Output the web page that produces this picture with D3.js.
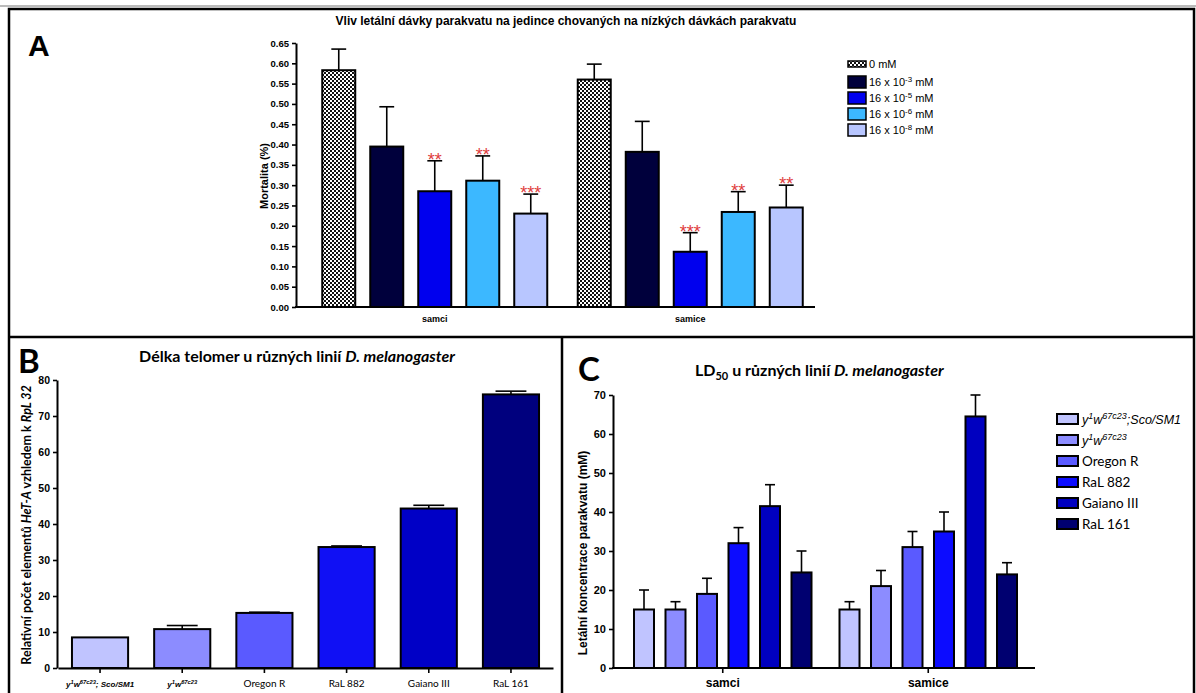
<!DOCTYPE html>
<html>
<head>
<meta charset="utf-8">
<script src="https://cdn.jsdelivr.net/npm/d3@7"></script>
<style>
body { margin: 0; background: #fff; }
svg { display: block; }
</style>
</head>
<body>
<svg id="chart" width="1196" height="693"></svg>
<script>
// ---- Panel A: mortality after lethal paraquat dose ----
const groupsA = ["samci", "samice"];
const dosesA = ["0 mM", "16 x 10^{-3} mM", "16 x 10^{-5} mM", "16 x 10^{-6} mM", "16 x 10^{-8} mM"];
const mortalitySamci = [0.583, 0.395, 0.285, 0.311, 0.230];
const mortalitySamice = [0.560, 0.382, 0.136, 0.234, 0.245];
const errSamci = [0.052, 0.098, 0.075, 0.061, 0.048];
const errSamice = [0.038, 0.075, 0.047, 0.050, 0.055];
const starsSamci = ["", "", "**", "**", "***"];
const starsSamice = ["", "", "***", "**", "**"];
const ticksA = [0, 0.05, 0.1, 0.15, 0.2, 0.25, 0.3, 0.35, 0.4, 0.45, 0.5, 0.55, 0.6, 0.65];

// ---- Panel B: telomere length ----
const strains = ["y^{1}w^{67c23}; Sco/SM1", "y^{1}w^{67c23}", "Oregon R", "RaL 882", "Gaiano III", "RaL 161"];
const telomere = [8.5, 10.8, 15.3, 33.6, 44.3, 76.0];
const telomereErr = [0, 1.0, 0.2, 0.3, 0.9, 0.9];
const ticksB = [0, 10, 20, 30, 40, 50, 60, 70, 80];

// ---- Panel C: LD50 ----
const groupsC = ["samci", "samice"];
const legendC = ["y^{1}w^{67c23};Sco/SM1", "y^{1}w^{67c23}", "Oregon R", "RaL 882", "Gaiano III", "RaL 161"];
const ld50Samci = [15, 15, 19, 32, 41.5, 24.5];
const ld50Samice = [15, 21, 31, 35, 64.5, 24];
const ld50ErrSamci = [5, 2, 4, 4, 5.5, 5.5];
const ld50ErrSamice = [2, 4, 4, 5, 5.5, 3];
const ticksC = [0, 10, 20, 30, 40, 50, 60, 70];

const colorsA = ["url(#checker)", "#00003c", "#0000ee", "#3cb8ff", "#b8c6ff"];
const colorsB = ["#c0c4ff", "#8c8cff", "#5a5aff", "#1010f4", "#0000c6", "#00007e"];
const colorsC = ["#c0c4ff", "#8c8cff", "#5a5aff", "#0c0cff", "#0000c0", "#000070"];

const ARIAL = "'Liberation Sans', Arial, sans-serif";
const CALIBRI = "Lato, 'Open Sans', sans-serif";

const svg = d3.select("#chart");

// checkered fill for the control bars
const pat = svg.append("defs").append("pattern")
    .attr("id", "checker")
    .attr("width", 4).attr("height", 4)
    .attr("patternUnits", "userSpaceOnUse");
pat.append("rect").attr("width", 4).attr("height", 4).attr("fill", "#fff");
pat.append("rect").attr("width", 2).attr("height", 2).attr("fill", "#111");
pat.append("rect").attr("x", 2).attr("y", 2).attr("width", 2).attr("height", 2).attr("fill", "#111");

// text with ^{...} superscripts
function rich(sel, str, size) {
    const parts = str.split(/(\^\{[^}]*\})/).filter(p => p);
    let up = false;
    parts.forEach(p => {
        const m = p.match(/^\^\{(.*)\}$/);
        const t = sel.append("tspan").text(m ? m[1] : p);
        if (m) {
            t.attr("font-size", size * 0.72);
            if (!up) t.attr("dy", -size * 0.4);
            up = true;
        } else {
            if (up) t.attr("dy", size * 0.4);
            up = false;
        }
    });
}

function styleAxis(g, fontSize, family) {
    g.select(".domain").attr("stroke-width", 2);
    g.selectAll(".tick line").attr("stroke-width", 1.6);
    g.selectAll(".tick text")
        .attr("font-family", family)
        .attr("font-size", fontSize)
        .attr("font-weight", "bold")
        .attr("fill", "#000");
}

function drawBars(g, rows, y, capFrac) {
    g.selectAll("rect.bar").data(rows).join("rect")
        .attr("class", "bar")
        .attr("x", d => d.x)
        .attr("y", d => y(d.v))
        .attr("width", d => d.w)
        .attr("height", d => y(0) - y(d.v))
        .attr("fill", d => d.fill)
        .attr("stroke", "#000")
        .attr("stroke-width", 2);
    const eb = g.selectAll("g.err").data(rows.filter(d => d.e > 0)).join("g").attr("class", "err")
        .attr("stroke", "#000").attr("stroke-width", 1.6);
    eb.append("line")
        .attr("x1", d => d.x + d.w / 2).attr("x2", d => d.x + d.w / 2)
        .attr("y1", d => y(d.v)).attr("y2", d => y(d.v + d.e));
    eb.append("line")
        .attr("x1", d => d.x + d.w / 2 - d.w * capFrac / 2)
        .attr("x2", d => d.x + d.w / 2 + d.w * capFrac / 2)
        .attr("y1", d => y(d.v + d.e)).attr("y2", d => y(d.v + d.e));
}

// ---- frame ----
svg.append("line").attr("x1", 0).attr("x2", 1196).attr("y1", 6).attr("y2", 6)
    .attr("stroke", "#bbb").attr("stroke-width", 2);
svg.append("rect").attr("x", 9).attr("y", 9).attr("width", 1185).attr("height", 700)
    .attr("fill", "none").attr("stroke", "#000").attr("stroke-width", 2.5);
svg.append("line").attr("x1", 9).attr("x2", 1194).attr("y1", 337).attr("y2", 337)
    .attr("stroke", "#000").attr("stroke-width", 2.5);
svg.append("line").attr("x1", 562).attr("x2", 562).attr("y1", 337).attr("y2", 693)
    .attr("stroke", "#000").attr("stroke-width", 2.5);

// ================= Panel A =================
{
    const g = svg.append("g");
    const y = d3.scaleLinear().domain([0, 0.65]).range([307, 43]);
    const x0 = d3.scaleBand().domain(groupsA).range([307, 818]);
    const x1 = d3.scaleBand().domain(dosesA).range([-112.5, 112.5]).paddingInner(0.3125);
    const vals = [mortalitySamci, mortalitySamice];
    const errs = [errSamci, errSamice];
    const stars = [starsSamci, starsSamice];
    const rows = groupsA.flatMap((grp, gi) => dosesA.map((ds, di) => ({
        x: x0(grp) + x0.bandwidth() / 2 + x1(ds),
        w: x1.bandwidth(),
        v: vals[gi][di], e: errs[gi][di], s: stars[gi][di],
        fill: colorsA[di]
    })));

    g.append("text").attr("x", 28).attr("y", 56)
        .attr("font-family", ARIAL).attr("font-weight", "bold").attr("font-size", 30).text("A");
    g.append("text").attr("x", 566).attr("y", 25).attr("text-anchor", "middle")
        .attr("font-family", ARIAL).attr("font-weight", "bold").attr("font-size", 12)
        .text("Vliv letální dávky parakvatu na jedince chovaných na nízkých dávkách parakvatu");

    drawBars(g, rows, y, 0.45);

    g.selectAll("text.star").data(rows.filter(d => d.s)).join("text")
        .attr("class", "star")
        .attr("x", d => d.x + d.w / 2)
        .attr("y", d => y(d.v + d.e) + 5)
        .attr("text-anchor", "middle")
        .attr("font-family", ARIAL).attr("font-size", 18)
        .attr("fill", "#e03c3c")
        .text(d => d.s);

    const ay = g.append("g").attr("transform", "translate(296,0)")
        .call(d3.axisLeft(y).tickValues(ticksA).tickFormat(d3.format(".2f")).tickSize(4).tickSizeOuter(0));
    styleAxis(ay, 9.5, ARIAL);
    g.append("line").attr("x1", 295).attr("x2", 815).attr("y1", y(0)).attr("y2", y(0))
        .attr("stroke", "#000").attr("stroke-width", 2);

    g.selectAll("text.grp").data(groupsA).join("text")
        .attr("class", "grp")
        .attr("x", d => x0(d) + x0.bandwidth() / 2)
        .attr("y", 322).attr("text-anchor", "middle")
        .attr("font-family", ARIAL).attr("font-weight", "bold").attr("font-size", 9)
        .text(d => d);

    g.append("text")
        .attr("transform", "translate(268,176) rotate(-90)")
        .attr("text-anchor", "middle")
        .attr("font-family", ARIAL).attr("font-weight", "bold").attr("font-size", 11)
        .text("Mortalita (%)");

    const leg = g.selectAll("g.leg").data(dosesA).join("g").attr("class", "leg")
        .attr("transform", (d, i) => `translate(848,${i === 0 ? 64 : 82 + 16 * (i - 1)})`);
    leg.append("rect")
        .attr("x", 0).attr("y", (d, i) => i === 0 ? -3 : -6)
        .attr("width", 18).attr("height", (d, i) => i === 0 ? 6 : 12)
        .attr("fill", (d, i) => colorsA[i]).attr("stroke", "#000").attr("stroke-width", 1.5);
    leg.append("text").attr("x", 21).attr("y", 4)
        .attr("font-family", ARIAL).attr("font-size", 11)
        .each(function (d) { rich(d3.select(this), d, 11); });
}

// ================= Panel B =================
{
    const g = svg.append("g");
    const y = d3.scaleLinear().domain([0, 80]).range([668, 380]);
    const x = d3.scaleBand().domain(strains).range([58, 553]).paddingInner(0.317).paddingOuter(0.17);
    const rows = strains.map((s, i) => ({
        x: x(s), w: x.bandwidth(), v: telomere[i], e: telomereErr[i], fill: colorsB[i]
    }));

    g.append("text").attr("x", 18).attr("y", 373)
        .attr("font-family", CALIBRI).attr("font-weight", "bold").attr("font-size", 33).text("B");
    const t = g.append("text").attr("x", 297).attr("y", 362).attr("text-anchor", "middle")
        .attr("font-family", CALIBRI).attr("font-weight", "bold").attr("font-size", 16);
    t.append("tspan").text("Délka telomer u různých linií  ");
    t.append("tspan").attr("font-style", "italic").text("D. melanogaster");

    drawBars(g, rows, y, 0.55);

    const ay = g.append("g").attr("transform", "translate(57,0)")
        .call(d3.axisLeft(y).tickValues(ticksB).tickSize(4).tickSizeOuter(0));
    styleAxis(ay, 10.5, ARIAL);

    const ax = g.append("g").attr("transform", `translate(0,${y(0)})`)
        .call(d3.axisBottom(x).tickSize(5).tickSizeOuter(0).tickFormat(""));
    styleAxis(ax, 9, ARIAL);

    g.selectAll("text.xl").data(strains).join("text")
        .attr("class", "xl")
        .attr("x", d => x(d) + x.bandwidth() / 2)
        .attr("y", 687).attr("text-anchor", "middle")
        .each(function (d, i) {
            const s = d3.select(this);
            if (i < 2) {
                s.attr("font-family", ARIAL).attr("font-weight", "bold").attr("font-style", "italic")
                    .attr("font-size", 8);
                rich(s, d, 8);
            } else {
                s.attr("font-family", CALIBRI).attr("font-size", 10).text(d);
            }
        });

    const yl = g.append("text")
        .attr("transform", "translate(31,525) rotate(-90)")
        .attr("text-anchor", "middle")
        .attr("font-family", CALIBRI).attr("font-weight", "bold").attr("font-size", 12.5);
    yl.append("tspan").text("Relativní počet elementů ");
    yl.append("tspan").attr("font-style", "italic").text("HeT-A");
    yl.append("tspan").text("  vzhledem k  ");
    yl.append("tspan").attr("font-style", "italic").text("RpL 32");
}

// ================= Panel C =================
{
    const g = svg.append("g");
    const y = d3.scaleLinear().domain([0, 70]).range([668, 395]);
    const x0 = d3.scaleBand().domain(groupsC).range([620, 1031]);
    const x1 = d3.scaleBand().domain(legendC).range([-88.75, 88.75]).paddingInner(0.365);
    const vals = [ld50Samci, ld50Samice];
    const errs = [ld50ErrSamci, ld50ErrSamice];
    const rows = groupsC.flatMap((grp, gi) => legendC.map((s, si) => ({
        x: x0(grp) + x0.bandwidth() / 2 + x1(s),
        w: x1.bandwidth(),
        v: vals[gi][si], e: errs[gi][si], fill: colorsC[si]
    })));

    g.append("text").attr("x", 578).attr("y", 381)
        .attr("font-family", CALIBRI).attr("font-weight", "bold").attr("font-size", 33).text("C");
    const t = g.append("text").attr("x", 695).attr("y", 376)
        .attr("font-family", CALIBRI).attr("font-weight", "bold").attr("font-size", 16);
    t.append("tspan").text("LD");
    t.append("tspan").attr("font-size", 11).attr("dy", 4).text("50");
    t.append("tspan").attr("dy", -4).text(" u různých linií ");
    t.append("tspan").attr("font-style", "italic").text("D. melanogaster");

    drawBars(g, rows, y, 0.5);

    const ay = g.append("g").attr("transform", "translate(613,0)")
        .call(d3.axisLeft(y).tickValues(ticksC).tickSize(4).tickSizeOuter(0));
    styleAxis(ay, 11, ARIAL);

    g.append("line").attr("x1", 612).attr("x2", 1035).attr("y1", y(0)).attr("y2", y(0))
        .attr("stroke", "#000").attr("stroke-width", 2);
    const ax = g.append("g").attr("transform", `translate(0,${y(0)})`)
        .call(d3.axisBottom(x0).tickSize(5).tickSizeOuter(0));
    ax.select(".domain").remove();
    styleAxis(ax, 12, ARIAL);
    ax.selectAll(".tick text").attr("dy", "0.9em");

    g.append("text")
        .attr("transform", "translate(587,553) rotate(-90)")
        .attr("text-anchor", "middle")
        .attr("font-family", ARIAL).attr("font-weight", "bold").attr("font-size", 12)
        .text("Letální koncentrace parakvatu (mM)");

    const leg = g.selectAll("g.leg").data(legendC).join("g").attr("class", "leg")
        .attr("transform", (d, i) => `translate(1057,${419 + 21 * i})`);
    leg.append("rect").attr("x", 0).attr("y", -5).attr("width", 21).attr("height", 10)
        .attr("fill", (d, i) => colorsC[i]).attr("stroke", "#000").attr("stroke-width", 2);
    leg.append("text").attr("x", 25).attr("y", 5)
        .each(function (d, i) {
            const s = d3.select(this);
            if (i < 2) {
                s.attr("font-family", ARIAL).attr("font-style", "italic").attr("font-size", 12.5);
                rich(s, d, 12.5);
            } else {
                s.attr("font-family", CALIBRI).attr("font-size", 13.5).text(d);
            }
        });
}
</script>
</body>
</html>
